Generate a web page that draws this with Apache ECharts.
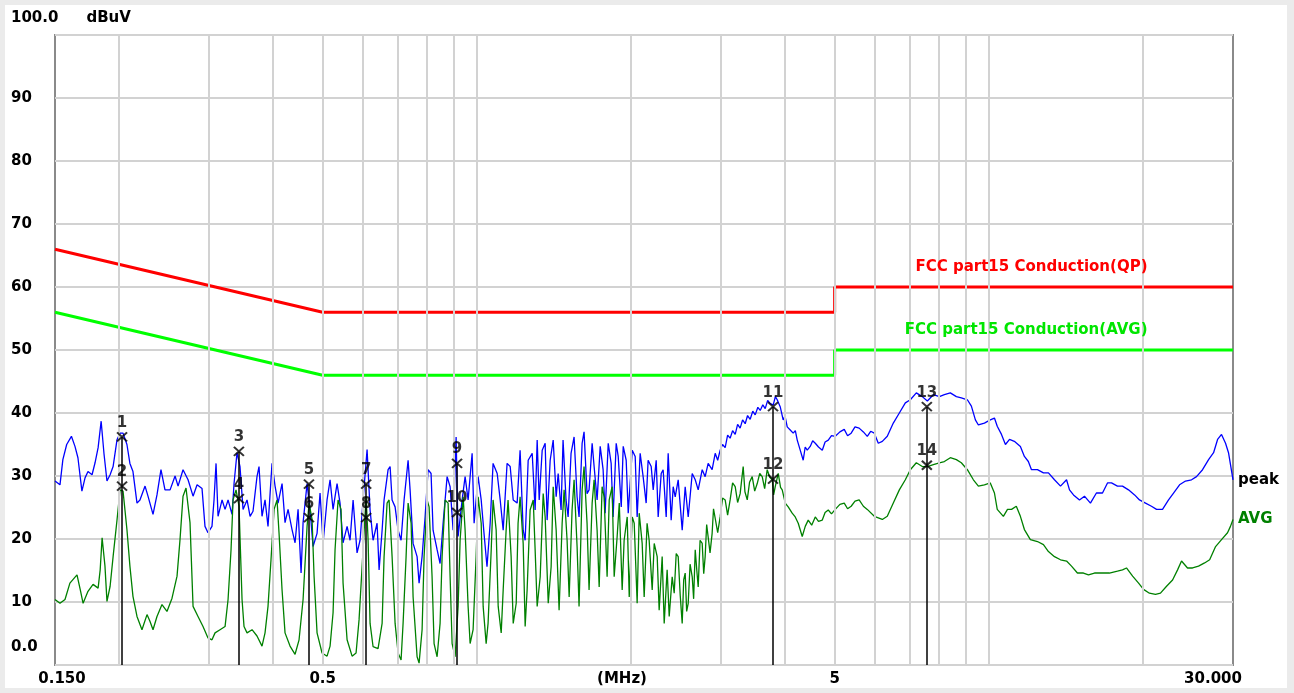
<!DOCTYPE html>
<html><head><meta charset="utf-8">
<script src="https://cdn.jsdelivr.net/npm/echarts@6/dist/echarts.min.js"></script>
<style>
html,body{margin:0;padding:0;background:#ebebeb;width:1294px;height:693px;overflow:hidden}
#c{position:absolute;left:5px;top:5px;width:1282px;height:683px;background:#fff}
</style></head><body><div id="c"></div>
<script>
const peakData = [[0.150,29.2],[0.1534,28.6],[0.1554,32.6],[0.1581,35.0],[0.1615,36.3],[0.1641,34.7],[0.1663,32.9],[0.1693,27.6],[0.1717,29.7],[0.1740,30.7],[0.1772,30.2],[0.1796,32.1],[0.1821,34.5],[0.1846,38.7],[0.1870,33.5],[0.1895,29.2],[0.1922,30.2],[0.1948,31.5],[0.1983,35.8],[0.2010,36.8],[0.2037,36.8],[0.2073,35.0],[0.2101,32.0],[0.2130,30.7],[0.2169,25.7],[0.2198,26.2],[0.2249,28.4],[0.2279,26.8],[0.2331,23.9],[0.2373,27.0],[0.2416,31.0],[0.2460,27.8],[0.2517,27.8],[0.2574,30.0],[0.2609,28.4],[0.2668,31.0],[0.2729,29.4],[0.2791,26.8],[0.2842,28.6],[0.2906,28.0],[0.2945,22.0],[0.2985,21.0],[0.3039,22.0],[0.3067,26.2],[0.3095,32.0],[0.3123,23.6],[0.3180,26.2],[0.3223,24.7],[0.3267,26.2],[0.3326,23.9],[0.3356,28.8],[0.3401,33.7],[0.3447,31.5],[0.3495,24.7],[0.3558,26.2],[0.3607,23.6],[0.3655,24.4],[0.3721,29.9],[0.3755,31.5],[0.3806,23.6],[0.3858,26.2],[0.3910,22.0],[0.3981,32.0],[0.4036,28.4],[0.4091,25.7],[0.4165,28.8],[0.4221,22.6],[0.4279,24.7],[0.4356,21.5],[0.4416,19.4],[0.4476,24.7],[0.4537,14.6],[0.4578,22.6],[0.4661,28.8],[0.4724,24.7],[0.4788,18.8],[0.4875,20.9],[0.4941,27.3],[0.5009,19.4],[0.5099,26.2],[0.5169,29.4],[0.5239,24.7],[0.5334,28.8],[0.5406,25.7],[0.5480,19.4],[0.5580,22.0],[0.5655,19.8],[0.5733,26.2],[0.5836,17.8],[0.5916,19.8],[0.5996,26.2],[0.6105,34.2],[0.6188,24.6],[0.6272,19.8],[0.6386,22.5],[0.6444,15.1],[0.6532,21.4],[0.6590,26.2],[0.6710,31.0],[0.6771,31.5],[0.6832,26.2],[0.6925,25.1],[0.7019,21.4],[0.7114,19.8],[0.7211,26.2],[0.7342,32.5],[0.7408,27.8],[0.7509,19.3],[0.7645,17.2],[0.7714,13.0],[0.7819,17.2],[0.7925,23.5],[0.8033,31.0],[0.8141,30.4],[0.8215,21.4],[0.8365,18.3],[0.8478,16.1],[0.8594,22.5],[0.8750,29.9],[0.8869,28.3],[0.8990,21.4],[0.9112,36.2],[0.9194,20.4],[0.9362,26.2],[0.9488,29.9],[0.9617,26.2],[0.9792,33.6],[0.9880,22.5],[1.006,29.9],[1.020,26.2],[1.033,20.9],[1.047,15.6],[1.062,22.5],[1.076,32.0],[1.096,30.4],[1.111,26.2],[1.126,21.4],[1.146,32.0],[1.162,31.5],[1.178,26.2],[1.199,25.7],[1.215,34.1],[1.232,21.4],[1.243,19.8],[1.260,32.5],[1.283,33.6],[1.300,24.6],[1.312,35.7],[1.324,26.2],[1.342,34.1],[1.360,35.2],[1.372,23.0],[1.391,32.5],[1.410,35.7],[1.429,26.7],[1.442,30.4],[1.461,24.6],[1.474,35.7],[1.494,26.2],[1.508,23.5],[1.528,33.6],[1.549,36.2],[1.570,26.7],[1.584,23.5],[1.606,35.2],[1.620,37.0],[1.642,27.2],[1.657,27.8],[1.680,35.2],[1.695,31.5],[1.718,26.2],[1.742,34.7],[1.765,31.0],[1.781,24.1],[1.806,35.2],[1.830,32.0],[1.846,23.5],[1.872,35.2],[1.889,33.1],[1.915,25.1],[1.932,34.7],[1.958,32.5],[1.976,24.1],[2.012,34.1],[2.039,33.1],[2.057,23.5],[2.085,33.6],[2.113,29.9],[2.142,25.7],[2.161,32.5],[2.191,31.5],[2.211,27.8],[2.241,32.5],[2.261,23.5],[2.292,30.4],[2.312,31.0],[2.344,23.5],[2.365,33.6],[2.397,23.0],[2.419,28.3],[2.441,26.7],[2.474,29.4],[2.519,21.4],[2.553,28.3],[2.588,23.5],[2.635,30.4],[2.671,29.4],[2.707,27.8],[2.756,31.0],[2.793,29.9],[2.831,32.0],[2.882,31.0],[2.922,33.6],[2.955,32.5],[2.988,34.1],[3.020,35.0],[3.056,34.5],[3.090,36.5],[3.125,36.0],[3.160,37.2],[3.197,36.6],[3.232,38.2],[3.269,37.6],[3.305,38.9],[3.344,38.3],[3.380,39.6],[3.420,39.0],[3.460,40.3],[3.498,39.7],[3.540,40.9],[3.578,40.4],[3.620,41.3],[3.659,40.7],[3.700,42.0],[3.743,41.5],[3.794,41.3],[3.830,42.6],[3.862,42.1],[3.914,41.0],[3.967,38.9],[4.000,39.5],[4.040,37.8],[4.095,37.3],[4.150,36.8],[4.190,37.2],[4.226,35.7],[4.283,34.1],[4.341,32.5],[4.380,34.6],[4.420,34.1],[4.480,34.7],[4.530,35.6],[4.583,35.2],[4.650,34.6],[4.730,34.1],[4.790,35.4],[4.859,35.7],[4.930,36.4],[5.014,36.3],[5.120,37.0],[5.221,37.4],[5.300,36.4],[5.386,36.8],[5.480,37.8],[5.583,37.6],[5.690,37.0],[5.791,36.3],[5.880,37.1],[5.977,36.8],[6.085,35.2],[6.196,35.5],[6.336,36.3],[6.510,38.4],[6.689,40.0],[6.872,41.6],[7.028,42.1],[7.220,43.2],[7.417,42.6],[7.587,41.9],[7.795,42.9],[8.008,42.6],[8.191,42.9],[8.413,43.2],[8.645,42.6],[8.840,42.4],[9.084,42.1],[9.249,41.1],[9.417,38.9],[9.545,38.1],[9.807,38.4],[10.07,38.9],[10.26,39.2],[10.39,37.9],[10.59,36.6],[10.78,35.0],[10.98,35.8],[11.22,35.5],[11.53,34.7],[11.74,33.1],[11.95,32.3],[12.12,31.0],[12.45,31.0],[12.79,30.5],[13.08,30.5],[13.44,29.4],[13.81,28.4],[14.19,29.4],[14.38,27.8],[14.64,27.0],[15.04,26.2],[15.38,26.8],[15.80,25.7],[16.23,27.3],[16.68,27.3],[17.06,28.9],[17.37,28.9],[17.84,28.4],[18.25,28.4],[18.75,27.8],[19.27,27.0],[19.70,26.2],[20.24,25.7],[20.79,25.2],[21.27,24.7],[21.85,24.7],[22.45,26.2],[22.96,27.3],[23.59,28.6],[24.23,29.2],[24.90,29.4],[25.46,29.9],[26.16,31.0],[26.88,32.6],[27.49,33.7],[27.99,35.8],[28.49,36.6],[29.01,35.2],[29.40,33.7],[29.93,29.9],[30.0,29.4]];

const avgData = [[0.150,10.4],[0.1534,9.8],[0.1569,10.4],[0.1604,13.0],[0.1656,14.3],[0.1680,12.0],[0.1702,9.8],[0.1740,11.7],[0.1780,12.8],[0.1821,12.2],[0.1838,15.1],[0.1854,20.2],[0.1878,15.7],[0.1895,10.1],[0.1922,12.5],[0.1948,17.2],[0.1983,23.1],[0.2010,27.8],[0.2037,27.6],[0.2073,21.5],[0.2101,15.7],[0.2130,10.9],[0.2169,7.7],[0.2218,5.6],[0.2269,8.0],[0.2300,6.9],[0.2331,5.6],[0.2373,7.7],[0.2427,9.6],[0.2482,8.5],[0.2539,10.6],[0.2597,14.1],[0.2632,19.9],[0.2668,26.8],[0.2704,28.1],[0.2753,22.6],[0.2791,9.3],[0.2854,7.7],[0.2919,6.1],[0.2985,4.3],[0.3039,4.0],[0.3081,5.1],[0.3151,5.6],[0.3223,6.1],[0.3267,10.4],[0.3311,18.3],[0.3341,26.2],[0.3386,27.8],[0.3432,25.2],[0.3479,10.4],[0.3510,6.1],[0.3558,5.1],[0.3639,5.6],[0.3721,4.6],[0.3806,3.0],[0.3858,5.1],[0.3910,9.3],[0.3963,16.7],[0.4018,24.7],[0.4072,26.2],[0.4109,20.9],[0.4165,11.9],[0.4221,5.1],[0.4317,3.0],[0.4416,1.7],[0.4496,4.0],[0.4578,10.4],[0.4661,22.0],[0.4703,25.7],[0.4767,23.1],[0.4810,14.1],[0.4875,5.1],[0.4986,1.9],[0.5099,1.4],[0.5169,3.0],[0.5239,8.3],[0.5286,18.3],[0.5358,26.2],[0.5430,24.7],[0.5480,13.0],[0.5580,4.0],[0.5707,1.4],[0.5810,1.9],[0.5889,7.2],[0.5996,18.3],[0.6078,26.7],[0.6132,20.0],[0.6188,6.6],[0.6272,2.9],[0.6414,2.6],[0.6532,6.6],[0.6590,17.2],[0.6680,25.7],[0.6740,26.2],[0.6832,17.2],[0.6925,6.6],[0.7019,1.9],[0.7114,0.8],[0.7178,6.6],[0.7276,17.2],[0.7342,25.7],[0.7442,22.5],[0.7509,10.8],[0.7645,1.3],[0.7714,0.3],[0.7819,5.6],[0.7889,17.2],[0.7997,26.2],[0.8069,25.1],[0.8178,14.0],[0.8252,3.4],[0.8365,1.3],[0.8478,6.6],[0.8555,17.2],[0.8672,26.2],[0.8789,25.7],[0.8869,14.0],[0.8949,3.4],[0.9071,1.3],[0.9194,9.3],[0.9277,19.8],[0.9403,26.7],[0.9488,21.4],[0.9617,9.3],[0.9704,3.4],[0.9835,5.6],[0.9970,17.2],[1.006,26.7],[1.020,22.5],[1.029,9.3],[1.043,3.4],[1.052,6.6],[1.067,18.3],[1.076,26.2],[1.091,21.4],[1.101,9.3],[1.116,5.1],[1.126,11.9],[1.141,21.4],[1.151,26.2],[1.167,17.2],[1.178,6.6],[1.194,9.8],[1.204,22.5],[1.215,26.7],[1.232,19.3],[1.243,6.1],[1.254,11.9],[1.271,24.6],[1.289,26.2],[1.300,18.3],[1.312,9.3],[1.330,14.0],[1.348,27.2],[1.360,23.5],[1.379,9.8],[1.397,15.6],[1.410,28.3],[1.429,21.4],[1.448,8.7],[1.468,22.5],[1.481,27.8],[1.501,19.8],[1.515,10.8],[1.535,24.6],[1.549,29.4],[1.570,18.8],[1.584,9.3],[1.606,27.8],[1.620,31.5],[1.642,22.5],[1.657,11.9],[1.680,25.7],[1.695,29.4],[1.718,21.4],[1.734,12.4],[1.757,28.3],[1.773,26.7],[1.797,14.0],[1.814,26.2],[1.838,28.3],[1.855,14.0],[1.880,20.4],[1.898,25.7],[1.923,11.9],[1.940,19.8],[1.967,23.5],[1.985,10.8],[2.012,23.5],[2.030,22.5],[2.057,9.8],[2.076,24.1],[2.104,19.3],[2.123,10.8],[2.151,22.5],[2.171,19.8],[2.201,11.9],[2.221,19.3],[2.251,17.2],[2.271,8.7],[2.302,17.2],[2.323,6.6],[2.354,15.1],[2.376,7.7],[2.408,14.0],[2.430,11.4],[2.452,17.7],[2.474,17.2],[2.497,11.0],[2.519,6.6],[2.536,13.5],[2.553,14.6],[2.570,8.5],[2.588,9.8],[2.610,16.0],[2.635,14.0],[2.652,10.5],[2.671,18.3],[2.690,15.0],[2.707,12.4],[2.730,19.8],[2.756,19.3],[2.775,14.5],[2.793,17.2],[2.812,22.3],[2.831,22.0],[2.855,17.8],[2.882,20.9],[2.900,24.8],[2.922,24.6],[2.955,21.0],[2.988,23.5],[3.020,26.5],[3.056,26.2],[3.090,23.8],[3.125,26.2],[3.160,28.9],[3.197,28.3],[3.232,25.8],[3.269,27.2],[3.314,31.5],[3.340,27.5],[3.375,26.2],[3.410,29.0],[3.451,29.9],[3.490,27.6],[3.530,28.8],[3.570,30.4],[3.610,29.9],[3.650,28.0],[3.692,31.0],[3.735,29.8],[3.777,29.4],[3.800,27.0],[3.828,28.3],[3.880,30.4],[3.920,28.2],[3.950,27.8],[4.004,25.7],[4.058,25.1],[4.131,24.1],[4.188,23.5],[4.245,22.5],[4.322,20.4],[4.381,22.0],[4.440,23.0],[4.510,22.2],[4.583,23.5],[4.650,22.8],[4.730,23.0],[4.790,24.2],[4.859,24.6],[4.930,24.0],[5.014,24.7],[5.120,25.5],[5.221,25.7],[5.300,24.8],[5.386,25.2],[5.480,26.0],[5.583,26.2],[5.690,25.2],[5.791,24.7],[5.977,23.6],[6.196,23.1],[6.336,23.6],[6.510,25.7],[6.689,27.8],[6.872,29.4],[7.028,31.0],[7.220,32.1],[7.417,31.5],[7.587,31.5],[7.795,31.8],[8.008,32.1],[8.191,32.3],[8.413,32.9],[8.645,32.6],[8.840,32.1],[9.084,31.0],[9.333,29.4],[9.545,28.4],[9.807,28.6],[10.07,28.9],[10.26,27.3],[10.39,24.7],[10.68,23.6],[10.88,24.7],[11.08,24.7],[11.32,25.2],[11.53,23.6],[11.74,21.5],[12.06,19.9],[12.45,19.6],[12.79,19.1],[13.08,18.0],[13.44,17.2],[13.81,16.7],[14.19,16.5],[14.51,15.7],[14.90,14.6],[15.31,14.6],[15.66,14.3],[16.09,14.6],[16.68,14.6],[17.21,14.6],[17.84,14.9],[18.25,15.1],[18.58,15.4],[19.10,14.1],[19.62,13.0],[20.06,12.0],[20.60,11.4],[21.17,11.2],[21.65,11.4],[22.25,12.5],[22.86,13.5],[23.38,15.1],[23.80,16.5],[24.45,15.4],[25.01,15.4],[25.69,15.7],[26.40,16.2],[27.01,16.7],[27.74,18.8],[28.49,19.9],[29.27,21.0],[29.66,22.0],[30.0,23.1]];

const qpLimit = [[0.15,66],[0.5,56],[5,56],[5,60],[30,60]];
const avgLimit = [[0.15,56],[0.5,46],[5,46],[5,50],[30,50]];
const qpLimitName = 'FCC part15 Conduction(QP)';
const avgLimitName = 'FCC part15 Conduction(AVG)';

const markerNames = ['1','2','3','4','5','6','7','8','9','10','11','12','13','14'];
const markerFreq = [0.2028,0.2028,0.343,0.343,0.470,0.470,0.608,0.608,0.915,0.915,3.79,3.79,7.57,7.57];
const markerLevel = [36.2,28.4,33.9,26.4,28.7,23.4,28.7,23.4,32.0,24.2,41.0,29.5,41.0,31.7];

const gridFreqs = [0.2,0.3,0.4,0.5,0.6,0.7,0.8,0.9,1,2,3,4,5,6,7,8,9,10,20];
const xTickValues = [0.15,0.5,5,30];
const xTickLabels = ['0.150','0.5','5','30.000'];
const yMin = 0, yMax = 100, yStep = 10;

const FONT = 'DejaVu Sans';
const txt = {fontFamily: FONT, fontWeight: 'bold', fontSize: 15, color: '#000'};

const chart = echarts.init(document.getElementById('c'), null, {renderer: 'canvas'});

const markerPoints = markerFreq.map((f, i) => ({value: [f, markerLevel[i]], name: markerNames[i]}));
const markerStems = [];
for (let i = 0; i < markerFreq.length; i += 2) {
  markerStems.push([{coord: [markerFreq[i], yMin]}, {coord: [markerFreq[i], markerLevel[i]]}]);
}

chart.setOption({
  animation: false,
  backgroundColor: '#ffffff',
  grid: {left: 50, right: 54, top: 30, bottom: 23, show: true, borderColor: '#8a8a8a', borderWidth: 2, containLabel: false, outerBoundsMode: 'none'},
  xAxis: {
    type: 'log', logBase: 10, min: 0.15, max: 30,
    axisLine: {show: false}, axisTick: {show: false}, splitLine: {show: false},
    axisLabel: {
      customValues: xTickValues,
      margin: 7,
      formatter: (v) => {
        for (let i = 0; i < xTickValues.length; i++) {
          if (Math.abs(v - xTickValues[i]) / xTickValues[i] < 1e-3) {
            if (i === 0) return '{l|' + xTickLabels[i] + '}';
            if (i === xTickValues.length - 1) return '{r|' + xTickLabels[i] + '}';
            return xTickLabels[i];
          }
        }
        return '';
      },
      ...txt,
      rich: {
        l: {...txt, padding: [0, 0, 0, 14]},
        r: {...txt, padding: [0, 40, 0, 0]}
      }
    },
    name: '(MHz)', nameLocation: 'middle', nameGap: 7, nameMoveOverlap: false,
    nameTextStyle: {...txt, verticalAlign: 'top', padding: [0, 44, 0, 0]}
  },
  yAxis: {
    type: 'value', min: yMin, max: yMax, interval: yStep,
    axisLine: {show: false}, axisTick: {show: false},
    splitLine: {lineStyle: {color: '#d2d2d2', width: 2}},
    axisLabel: {
      align: 'left', margin: 44,
      formatter: (v) => {
        if (v === yMax) return '{t|100.0}{u|dBuV}';
        if (v === yMin) return '{z|0.0}';
        return '{n|' + v + '}';
      },
      rich: {
        t: {...txt, padding: [0, 0, 34, 0]},
        u: {...txt, padding: [0, 0, 34, 28]},
        z: {...txt, padding: [0, 0, 36, 0]},
        n: {...txt}
      }
    }
  },
  series: [
    {
      type: 'line', data: [], silent: true, z: 1,
      markLine: {
        silent: true, symbol: ['none', 'none'], label: {show: false},
        lineStyle: {color: '#d2d2d2', width: 2, type: 'solid'},
        data: gridFreqs.map(f => ({xAxis: f}))
      }
    },
    {
      name: 'AVG', type: 'line', data: avgData, showSymbol: false, z: 3,
      lineStyle: {color: '#008000', width: 1.3}, itemStyle: {color: '#008000'},
      endLabel: {show: true, formatter: 'AVG', ...txt, color: '#008000', distance: 5}
    },
    {
      name: 'peak', type: 'line', data: peakData, showSymbol: false, z: 2,
      lineStyle: {color: '#0000ff', width: 1.3}, itemStyle: {color: '#0000ff'},
      endLabel: {show: true, formatter: 'peak', ...txt, color: '#000', distance: 5}
    },
    {
      name: qpLimitName, type: 'line', data: qpLimit, showSymbol: false, z: 4,
      lineStyle: {color: '#ff0000', width: 3}, itemStyle: {color: '#ff0000'},
      markPoint: {
        symbol: 'circle', symbolSize: 1, itemStyle: {color: 'rgba(0,0,0,0)'},
        label: {show: true, position: 'left', distance: 5, offset: [-80, -20], formatter: qpLimitName, ...txt, color: '#ff0000'},
        data: [{coord: qpLimit[qpLimit.length - 1]}]
      }
    },
    {
      name: avgLimitName, type: 'line', data: avgLimit, showSymbol: false, z: 4,
      lineStyle: {color: '#00ff00', width: 3}, itemStyle: {color: '#00ff00'},
      markPoint: {
        symbol: 'circle', symbolSize: 1, itemStyle: {color: 'rgba(0,0,0,0)'},
        label: {show: true, position: 'left', distance: 5, offset: [-80, -20], formatter: avgLimitName, ...txt, color: '#00e600'},
        data: [{coord: avgLimit[avgLimit.length - 1]}]
      }
    },
    {
      name: 'markers', type: 'scatter', data: markerPoints, z: 6,
      symbol: 'path://M0,0L10,10M10,0L0,10', symbolSize: [10, 9],
      itemStyle: {color: 'rgba(0,0,0,0)', borderColor: '#000', borderWidth: 2},
      label: {show: true, position: 'top', distance: 1, formatter: '{b}', ...txt},
      markLine: {
        silent: true, symbol: ['none', 'none'], label: {show: false},
        lineStyle: {color: '#000', width: 1.5, type: 'solid'},
        data: markerStems
      }
    }
  ]
});
</script></body></html>
